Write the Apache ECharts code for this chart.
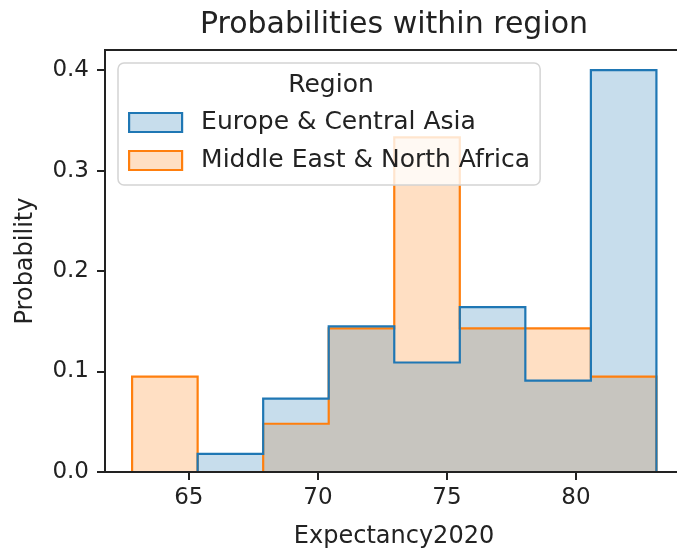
<!DOCTYPE html>
<html>
<head>
<meta charset="utf-8">
<script src="https://cdn.jsdelivr.net/npm/echarts@6/dist/echarts.min.js"></script>
<style>
  html, body { margin: 0; padding: 0; background: #fff; }
  #chart { width: 677px; height: 550px; }
</style>
</head>
<body>
<div id="chart"></div>
<script>
// Bin edges of life expectancy (years) shared by both regions
const binEdges = [62.8, 65.34, 67.88, 70.42, 72.96, 75.5, 78.04, 80.58, 83.12];

// Share of countries per bin, within each region
const europeCentralAsia = [0, 0.018, 0.073, 0.145, 0.109, 0.164, 0.091, 0.4];
const middleEastNorthAfrica = [0.095, 0, 0.048, 0.143, 0.333, 0.143, 0.143, 0.095];

const seriesNames = ['Europe & Central Asia', 'Middle East & North Africa'];

// Tick labels
const xTicks = [65, 70, 75, 80];
const yTicks = [0, 0.1, 0.2, 0.3, 0.4];

const FONT = 'DejaVu Sans';
const TEXT = '#222';
const BLUE = '#1f77b4';
const ORANGE = '#ff7f0e';

// Outline of a step histogram: baseline, up each bin, down at the end
function stepPoints(edges, heights) {
  const pts = [[edges[0], 0]];
  for (let i = 0; i < heights.length; i++) {
    pts.push([edges[i], heights[i]]);
    pts.push([edges[i + 1], heights[i]]);
  }
  pts.push([edges[edges.length - 1], 0]);
  return pts;
}

function stepSeries(name, heights, color, fill) {
  return {
    name: name,
    type: 'line',
    data: stepPoints(binEdges, heights),
    symbol: 'none',
    silent: true,
    lineStyle: { color: color, width: 2.2, join: 'miter' },
    itemStyle: { color: color },
    areaStyle: { color: fill, opacity: 1, origin: 'start' }
  };
}

const chart = echarts.init(document.getElementById('chart'), null, { renderer: 'canvas' });

chart.setOption({
  animation: false,
  backgroundColor: '#fff',
  textStyle: { fontFamily: FONT, color: TEXT },
  title: {
    text: 'Probabilities within region',
    left: 394,
    top: 10,
    textAlign: 'center',
    padding: 0,
    textStyle: { fontFamily: FONT, fontSize: 30, fontWeight: 'normal', color: TEXT }
  },
  grid: {
    left: 105, top: 50, width: 578, height: 422,
    outerBoundsMode: 'none',
    containLabel: false,
    show: true, borderColor: '#222', borderWidth: 2, backgroundColor: 'transparent', z: 5
  },
  xAxis: {
    type: 'value',
    min: 61.75,
    max: 84.15,
    z: 5,
    name: 'Expectancy2020',
    nameLocation: 'middle',
    nameGap: 53,
    nameTextStyle: { fontFamily: FONT, fontSize: 24, color: TEXT },
    axisLine: { show: true, onZero: false, lineStyle: { color: '#222', width: 2 } },
    axisTick: { show: true, inside: false, length: 8, customValues: xTicks, lineStyle: { color: '#222', width: 2 } },
    axisLabel: {
      customValues: xTicks, margin: 15,
      fontFamily: FONT, fontSize: 23, color: TEXT,
      formatter: v => String(v)
    },
    splitLine: { show: false }
  },
  yAxis: {
    type: 'value',
    min: 0,
    max: 0.42,
    z: 5,
    name: 'Probability',
    nameLocation: 'middle',
    nameGap: 67,
    nameTextStyle: { fontFamily: FONT, fontSize: 24, color: TEXT },
    axisLine: { show: true, onZero: false, lineStyle: { color: '#222', width: 2 } },
    axisTick: { show: true, inside: false, length: 8, customValues: yTicks, lineStyle: { color: '#222', width: 2 } },
    axisLabel: {
      customValues: yTicks, margin: 16,
      fontFamily: FONT, fontSize: 23, color: TEXT,
      formatter: v => v.toFixed(1)
    },
    splitLine: { show: false }
  },
  legend: {
    orient: 'vertical',
    left: 118,
    top: 63,
    padding: [47, 10, 12, 10],
    itemGap: 13,
    itemWidth: 53,
    itemHeight: 19,
    icon: 'rect',
    backgroundColor: 'rgba(255,255,255,0.8)',
    borderColor: '#d4d4d4',
    borderWidth: 1.5,
    borderRadius: 6,
    z: 10,
    textStyle: { fontFamily: FONT, fontSize: 25, color: TEXT, padding: [0, 0, 0, 14] },
    data: [
      { name: seriesNames[0], icon: 'rect',
        itemStyle: { color: 'rgba(31,119,180,0.25)', borderColor: BLUE, borderWidth: 2.2 } },
      { name: seriesNames[1], icon: 'rect',
        itemStyle: { color: 'rgba(255,127,14,0.25)', borderColor: ORANGE, borderWidth: 2.2 } }
    ]
  },
  graphic: [{
    type: 'text',
    z: 100,
    style: {
      text: 'Region',
      x: 331, y: 85,
      align: 'center', verticalAlign: 'middle',
      font: '25px "DejaVu Sans"',
      fill: TEXT
    }
  }],
  series: [
    stepSeries(seriesNames[1], middleEastNorthAfrica, ORANGE, 'rgba(255,127,14,0.25)'),
    stepSeries(seriesNames[0], europeCentralAsia, BLUE, 'rgba(31,119,180,0.25)')
  ]
});
</script>
</body>
</html>
